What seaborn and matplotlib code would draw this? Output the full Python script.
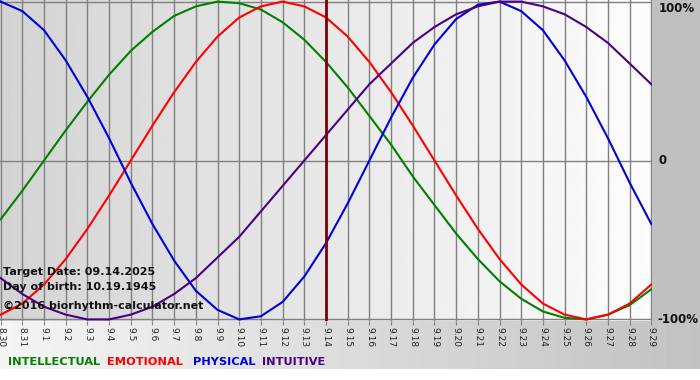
import numpy as np
import pandas as pd
import seaborn as sns
import matplotlib.pyplot as plt

# Day labels (8.30 .. 9.29) and biorhythm values in percent
days = ['8.30', '8.31'] + ['9.%d' % d for d in range(1, 30)]
intellectual = [-37, -19, 0, 19, 37, 54, 69, 81, 91, 97, 100, 99, 95, 87, 76, 62,
                46, 28, 10, -10, -28, -46, -62, -76, -87, -95, -99, -100, -97, -91, -81]
emotional = [-97, -90, -78, -62, -43, -22, 0, 22, 43, 62, 78, 90, 97, 100, 97, 90,
             78, 62, 43, 22, 0, -22, -43, -62, -78, -90, -97, -100, -97, -90, -78]
physical = [100, 94, 82, 63, 40, 14, -14, -40, -63, -82, -94, -100, -98, -89, -73, -52,
            -27, 0, 27, 52, 73, 89, 98, 100, 94, 82, 63, 40, 14, -14, -40]
intuitive = [-74, -84, -92, -97, -100, -100, -97, -92, -84, -74, -61, -48, -32, -16, 0, 16,
             32, 48, 61, 74, 84, 92, 97, 100, 100, 97, 92, 84, 74, 61, 48]
target_day = '9.14'

df = pd.DataFrame({'day': np.arange(len(days)),
                   'INTELLECTUAL': intellectual, 'EMOTIONAL': emotional,
                   'PHYSICAL': physical, 'INTUITIVE': intuitive})
colors = {'INTELLECTUAL': '#008000', 'EMOTIONAL': '#ff0000',
          'PHYSICAL': '#0000dd', 'INTUITIVE': '#4b0082'}

W, H = 700, 380
fig = plt.figure(figsize=(7, 3.8), dpi=100)
plt.rcParams['font.family'] = ['DejaVu Sans']

# page background: gray panel on the right, gradient band at the bottom
bg = fig.add_axes([0, 0, 1, 1], zorder=-1)
img = np.full((H, W), 0.75)
band = np.linspace(0.96, 0.76, W)
img[321:369, :] = band[None, :]
img[369:, :] = 1.0
bg.imshow(img, cmap='gray', vmin=0, vmax=1, aspect='auto', extent=[0, W, H, 0])
bg.axis('off')

ax = fig.add_axes([0, (H - 321) / H, 652 / W, 321 / H])
ax.imshow(np.linspace(0.83, 0.99, 256)[None, :], cmap='gray', vmin=0, vmax=1,
          aspect='auto', extent=[-0.03, 30.03, -101, 101], zorder=0)

for name, c in colors.items():
    sns.lineplot(data=df, x='day', y=name, color=c, lw=1.5, ax=ax, zorder=3)

ax.axvline(days.index(target_day), color='#800000', lw=2, zorder=4)

ax.set_xlim(-0.03, 30.03)
ax.set_ylim(-101, 101)
ax.set_xticks(df['day'])
ax.set_xticklabels(days, rotation=-90, fontsize=6.5, color='#222222')
ax.set_yticks([-100, 0, 100])
ax.set_yticklabels([])
ax.tick_params(axis='x', length=3, color='#808080', pad=1)
ax.tick_params(axis='y', length=0)
ax.grid(True, color='#808080', lw=1, zorder=1)
ax.set_axisbelow(True)
for s in ax.spines.values():
    s.set_visible(False)
ax.set_xlabel('')
ax.set_ylabel('')

# right-hand percent labels
lab = dict(fontsize=8.5, fontweight='bold', color='#111111', clip_on=False)
ax.text(30.33, 100, '100%', va='top', ha='left', **lab)
ax.text(30.33, 0, '0', va='center', ha='left', **lab)
ax.text(30.3, -100, '-100%', va='center', ha='left', **lab)

# info text
info = dict(fontsize=8, fontweight='bold', color='#111111', ha='left', va='center')
fig.text(3 / W, 1 - 272 / H, 'Target Date: 09.14.2025', **info)
fig.text(3 / W, 1 - 287 / H, 'Day of birth: 10.19.1945', **info)
fig.text(3 / W, 1 - 306 / H, '\u00a92016 biorhythm-calculator.net', **info)

# coloured legend words
xs = [8, 107, 193, 262]
for x, (name, c) in zip(xs, colors.items()):
    fig.text(x / W, 1 - 362 / H, name, color=c, fontsize=8.2, fontweight='bold',
             ha='left', va='center')

fig.savefig('out.png', dpi=100)
